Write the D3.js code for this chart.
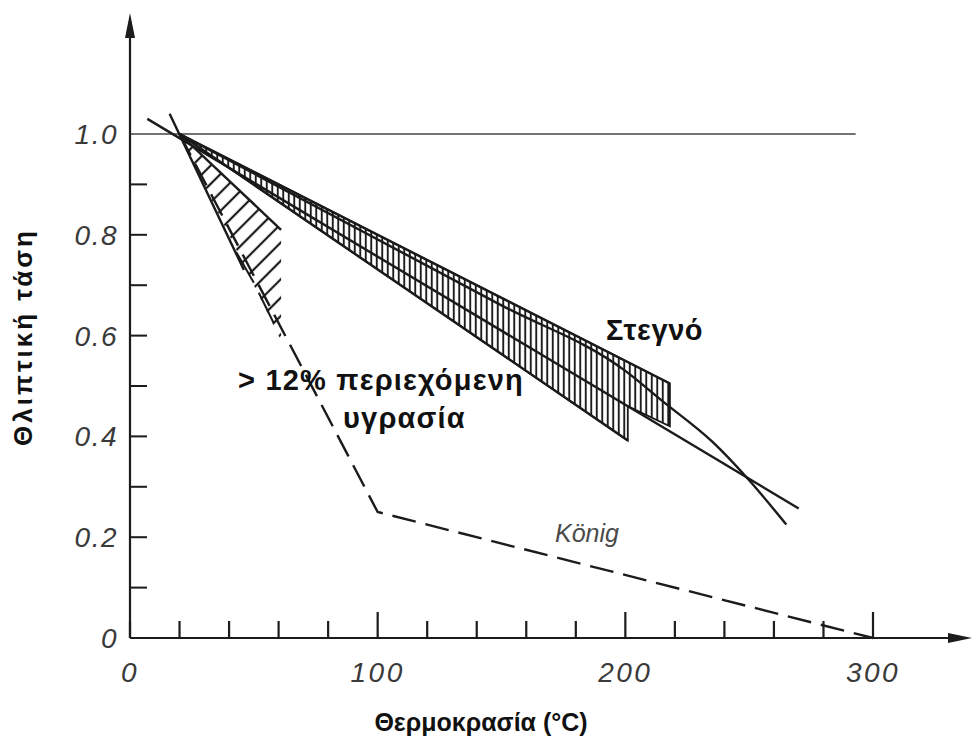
<!DOCTYPE html>
<html lang="el">
  <head>
    <meta charset="utf-8">
    <title>Θλιπτική τάση - Θερμοκρασία</title>
    <script src="https://cdn.jsdelivr.net/npm/d3@7"></script>
    <style>
      body { margin:0; background:#fff; }
      svg { display:block; }
      .lbl { font-family:"Liberation Sans", Arial, sans-serif; font-weight:bold; fill:#111; }
      .tick { font-family:"Liberation Sans", Arial, sans-serif; font-style:italic; fill:#3a3a3a; }
    </style>
  </head>
  <body>
    <svg></svg>
    <script>
    // ticks
    var xTickValues = [0,20,40,60,80,100,120,140,160,180,200,220,240,260,280,300];
    var xLabelValues = [0,100,200,300];
    var yTickValues = [0.1,0.2,0.3,0.4,0.5,0.6,0.7,0.8,0.9];
    var yLabelValues = [0,0.2,0.4,0.6,0.8,1.0];

    // dry band (Στεγνό)
    var dryTop = [[20,1.00],[218,0.505]];
    var dryMid = [[7,1.03],[270,0.257]];
    var dryBottom = [[20,1.00],[201,0.392]];
    var dryCurve = [[20,1.00],[150,0.66],[200,0.53],[215,0.47],[235,0.39],[250,0.313],[265,0.225]];
    var dryHatch = [[20,1.00],[218,0.505],[218,0.42],[201,0.46],[201,0.392],[20,1.00]];

    // > 12% moisture band
    var wetLeft = [[16,1.04],[46,0.73]];
    var wetRight = [[20,1.00],[61,0.81]];
    var wetHatch = [[20,1.00],[61,0.81],[61,0.59],[20,1.00]];
    var wetBroken = [[[43,0.765],[50,0.705]],[[52,0.685],[58,0.625]]];

    // König
    var konig = [[20,1.00],[100,0.25],[300,0.00]];
    var refLine = [[0,1.0],[293,1.0]];

    var width = 973, height = 749;
    var svg = d3.select("svg").attr("width", width).attr("height", height);

    var x = d3.scaleLinear().domain([0,300]).range([130,873]);
    var y = d3.scaleLinear().domain([0,1]).range([638,134]);
    var line = d3.line().x(function(d){return x(d[0]);}).y(function(d){return y(d[1]);});

    var defs = svg.append("defs");
    defs.append("filter").attr("id","soft")
      .append("feGaussianBlur").attr("stdDeviation",0.45);
    // vertical hatching
    defs.append("pattern").attr("id","vhatch")
      .attr("patternUnits","userSpaceOnUse").attr("width",5.5).attr("height",6)
      .append("line").attr("x1",2.75).attr("y1",0).attr("x2",2.75).attr("y2",6)
      .attr("stroke","#1a1a1a").attr("stroke-width",1.9);
    // diagonal hatching
    defs.append("pattern").attr("id","dhatch")
      .attr("patternUnits","userSpaceOnUse").attr("width",13).attr("height",13)
      .attr("patternTransform","rotate(45)")
      .append("line").attr("x1",6).attr("y1",0).attr("x2",6).attr("y2",13)
      .attr("stroke","#1a1a1a").attr("stroke-width",2.2);

    var g = svg.append("g").attr("filter","url(#soft)");

    // hatched areas
    g.append("path").attr("d", line(dryHatch)).attr("fill","url(#vhatch)")
      .attr("stroke","#1a1a1a").attr("stroke-width",1.8);
    g.append("path").attr("d", line(wetHatch)).attr("fill","url(#dhatch)").attr("stroke","none");

    // reference line at 1.0
    g.append("path").attr("d", line(refLine)).attr("stroke","#444").attr("stroke-width",1.6).attr("fill","none");

    // curves
    [dryTop, dryMid, dryBottom, wetLeft, wetRight].forEach(function(s){
      g.append("path").attr("d", line(s)).attr("fill","none")
        .attr("stroke","#1a1a1a").attr("stroke-width",2.4);
    });
    g.append("path").attr("d", d3.line().curve(d3.curveMonotoneX)
        .x(function(d){return x(d[0]);}).y(function(d){return y(d[1]);})(dryCurve))
      .attr("fill","none").attr("stroke","#1a1a1a").attr("stroke-width",2.4);
    wetBroken.forEach(function(s){
      g.append("path").attr("d", line(s)).attr("fill","none")
        .attr("stroke","#1a1a1a").attr("stroke-width",2);
    });
    g.append("path").attr("d", line(konig)).attr("fill","none")
      .attr("stroke","#1a1a1a").attr("stroke-width",2.4).attr("stroke-dasharray","24,10");

    // axes
    g.append("line").attr("x1",x(0)).attr("y1",y(0)).attr("x2",x(0)).attr("y2",30)
      .attr("stroke","#1a1a1a").attr("stroke-width",2.2);
    g.append("path").attr("d","M"+(x(0)-5)+",38L"+x(0)+",13L"+(x(0)+5)+",38Z").attr("fill","#1a1a1a");
    g.append("line").attr("x1",x(0)).attr("y1",y(0)).attr("x2",955).attr("y2",y(0))
      .attr("stroke","#1a1a1a").attr("stroke-width",2.2);
    g.append("path").attr("d","M948,"+(y(0)-5)+"L972,"+y(0)+"L948,"+(y(0)+5)+"Z").attr("fill","#1a1a1a");

    g.selectAll(".xt").data(xTickValues).enter().append("line")
      .attr("x1", function(d){return x(d);}).attr("x2", function(d){return x(d);})
      .attr("y1", y(0)).attr("y2", function(d){return y(0) - (d % 100 === 0 && d > 0 ? 26 : 17);})
      .attr("stroke","#1a1a1a").attr("stroke-width",2.2);
    g.selectAll(".yt").data(yTickValues).enter().append("line")
      .attr("x1", x(0)).attr("x2", x(0)+17)
      .attr("y1", function(d){return y(d);}).attr("y2", function(d){return y(d);})
      .attr("stroke","#1a1a1a").attr("stroke-width",2);

    // tick labels
    svg.selectAll(".xl").data(xLabelValues).enter().append("text").attr("class","tick")
      .attr("x", function(d){return x(d);}).attr("y", 682)
      .attr("text-anchor","middle").attr("font-size",28).attr("letter-spacing",2.5)
      .text(function(d){return d;});
    svg.selectAll(".yl").data(yLabelValues).enter().append("text").attr("class","tick")
      .attr("x", 118).attr("y", function(d){return y(d) + 10;})
      .attr("text-anchor","end").attr("font-size",28).attr("letter-spacing",1.5)
      .text(function(d){return d === 0 ? "0" : d3.format(".1f")(d);});

    // labels
    svg.append("text").attr("class","lbl").attr("x",606).attr("y",340).attr("font-size",29).attr("letter-spacing",0.6).text("Στεγνό");
    svg.append("text").attr("class","lbl").attr("x",238).attr("y",390).attr("font-size",29).attr("letter-spacing",1.2).text("> 12% περιεχόμενη");
    svg.append("text").attr("class","lbl").attr("x",343).attr("y",428).attr("font-size",29).attr("letter-spacing",1.2).text("υγρασία");
    svg.append("text").attr("x",555).attr("y",542).attr("font-size",25)
      .attr("font-family","Liberation Sans, Arial, sans-serif").attr("font-style","italic")
      .attr("fill","#4a4a4a").text("König");

    // axis titles
    svg.append("text").attr("class","lbl").attr("x",481).attr("y",731).attr("text-anchor","middle")
      .attr("font-size",25).text("Θερμοκρασία (°C)");
    svg.append("text").attr("class","lbl").attr("transform","translate(32,337) rotate(-90)")
      .attr("text-anchor","middle").attr("font-size",26).attr("letter-spacing",3).text("Θλιπτική τάση");
    </script>
  </body>
</html>
